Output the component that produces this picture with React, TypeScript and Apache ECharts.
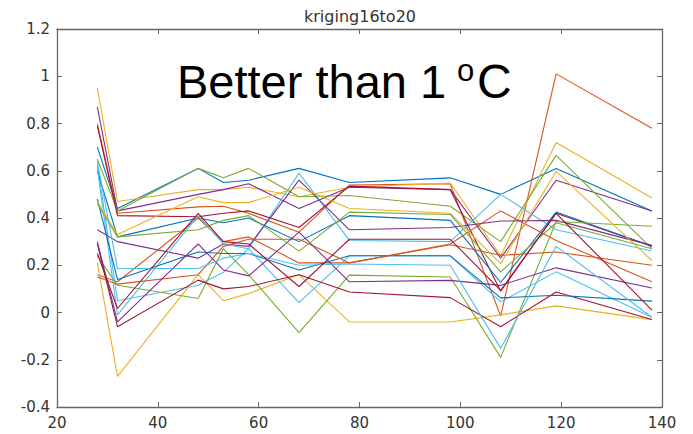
import React, { useEffect, useRef } from "react";
import * as echarts from "echarts";

// Sample positions shared by every curve
const xValues = [28, 32, 48, 53, 58, 68, 78, 98, 108, 119, 138];

// Error curves, one per run (MATLAB default colour order)
const run01 = [0.7, 0.44, 0.61, 0.55, 0.56, 0.61, 0.55, 0.57, 0.5, 0.61, 0.43];
const run02 = [0.8, 0.42, 0.447, 0.45, 0.42, 0.34, 0.54, 0.545, -0.015, 1.01, 0.78];
const run03 = [0.95, 0.47, 0.52, 0.52, 0.53, 0.49, 0.53, 0.548, 0.24, 0.72, 0.485];
const run04 = [0.87, 0.43, 0.5, 0.52, 0.545, 0.44, 0.53, 0.52, 0.23, 0.56, 0.43];
const run05 = [0.65, 0.43, 0.61, 0.57, 0.61, 0.49, 0.495, 0.45, 0.3, 0.665, 0.27];
const run06 = [0.63, 0.05, 0.115, 0.17, 0.27, 0.59, 0.305, 0.3, 0.5, 0.35, 0.26];
const run07 = [0.79, 0.41, 0.405, 0.42, 0.43, 0.36, 0.535, 0.52, 0.09, 0.42, 0.28];
const run08 = [0.6, 0.32, 0.4, 0.38, 0.4, 0.3, 0.41, 0.39, 0.127, 0.425, 0.28];
const run09 = [0.16, 0.13, 0.4, 0.3, 0.32, 0.21, 0.21, 0.29, 0.43, 0.305, 0.13];
const run10 = [0.21, -0.27, 0.16, 0.05, 0.08, 0.16, -0.04, -0.04, -0.01, 0.028, -0.03];
const run11 = [0.35, 0.3, 0.23, 0.29, 0.28, 0.56, 0.35, 0.36, 0.387, 0.39, 0.284];
const run12 = [0.24, 0.115, 0.059, 0.27, 0.16, -0.085, 0.158, 0.15, -0.19, 0.385, 0.365];
const run13 = [0.61, -0.01, 0.41, 0.29, 0.27, 0.042, 0.24, 0.24, 0.045, 0.172, -0.02];
const run14 = [0.29, -0.06, 0.137, 0.1, 0.11, 0.16, 0.087, 0.063, -0.06, 0.087, -0.03];
const run15 = [0.48, 0.14, 0.256, 0.25, 0.25, 0.18, 0.24, 0.24, 0.062, 0.073, 0.048];
const run16 = [0.15, 0.12, 0.16, 0.28, 0.31, 0.31, 0.21, 0.287, 0.242, 0.256, 0.2];
const run17 = [0.47, 0.33, 0.49, 0.465, 0.465, 0.53, 0.44, 0.42, 0.207, 0.597, 0.22];
const run18 = [0.3, -0.04, 0.29, 0.18, 0.155, 0.34, 0.13, 0.136, 0.115, 0.189, 0.104];
const run19 = [0.46, 0.32, 0.35, 0.39, 0.41, 0.26, 0.425, 0.415, 0.172, 0.38, 0.27];
const run20 = [0.64, 0.186, 0.186, 0.23, 0.25, 0.2, 0.205, 0.2, -0.152, 0.28, -0.02];
const run21 = [0.25, 0.017, 0.42, 0.3, 0.29, 0.11, 0.31, 0.31, 0.094, 0.42, 0.01];

const runs = [
  run01, run02, run03, run04, run05, run06, run07,
  run08, run09, run10, run11, run12, run13, run14,
  run15, run16, run17, run18, run19, run20, run21,
];

const lineColors = ["#0072BD", "#D95319", "#EDB120", "#7E2F8E", "#77AC30", "#4DBEEE", "#A2142F"];

const xTicks = { min: 20, max: 140, interval: 20 };
const yTicks = { min: -0.4, max: 1.2, interval: 0.2 };

const titleText = "kriging16to20";

const AXIS_COLOR = "#666666";
const LABEL_COLOR = "#333333";
const TICK_FONT = "DejaVu Sans";

export default function App() {
  const ref = useRef<HTMLDivElement>(null);

  useEffect(() => {
    if (!ref.current) return;
    const chart = echarts.init(ref.current, undefined, { renderer: "svg" });

    const axisLine = { show: true, onZero: false, lineStyle: { color: AXIS_COLOR, width: 1.3 } };
    const axisTick = { show: true, inside: true, length: 5, lineStyle: { color: AXIS_COLOR, width: 1 } };
    const axisLabel = { fontSize: 15, color: LABEL_COLOR, fontFamily: TICK_FONT };

    chart.setOption({
      animation: false,
      backgroundColor: "#ffffff",
      grid: { left: 57, right: 31, top: 29, bottom: 27, containLabel: false },
      xAxis: [
        {
          type: "value",
          position: "bottom",
          ...xTicks,
          axisLine,
          axisTick,
          axisLabel: { ...axisLabel, margin: 8 },
          splitLine: { show: false },
        },
        {
          type: "value",
          position: "top",
          ...xTicks,
          axisLine,
          axisTick,
          axisLabel: { show: false },
          splitLine: { show: false },
        },
      ],
      yAxis: [
        {
          type: "value",
          position: "left",
          ...yTicks,
          axisLine,
          axisTick,
          axisLabel: { ...axisLabel, margin: 7 },
          splitLine: { show: false },
        },
        {
          type: "value",
          position: "right",
          ...yTicks,
          axisLine,
          axisTick,
          axisLabel: { show: false },
          splitLine: { show: false },
        },
      ],
      series: runs.map((vals, i) => ({
        type: "line",
        xAxisIndex: 0,
        yAxisIndex: 0,
        data: xValues.map((x, j) => [x, vals[j]]),
        showSymbol: false,
        symbol: "none",
        silent: true,
        lineStyle: { width: 1.1, color: lineColors[i % lineColors.length] },
        itemStyle: { color: lineColors[i % lineColors.length] },
        z: 2 + i / 100,
      })),
      graphic: [
        {
          type: "text",
          x: 360,
          y: 16,
          style: {
            text: titleText,
            fontSize: 16,
            fontFamily: TICK_FONT,
            fill: LABEL_COLOR,
            align: "center",
            verticalAlign: "middle",
          },
        },
        {
          type: "text",
          x: 177,
          y: 81,
          style: {
            text: "Better than 1",
            fontSize: 47,
            fontFamily: "Liberation Sans",
            fill: "#000000",
            align: "left",
            verticalAlign: "middle",
          },
        },
        {
          type: "text",
          x: 457,
          y: 70,
          style: {
            text: "o",
            fontSize: 31,
            fontFamily: "Liberation Sans",
            fill: "#000000",
            align: "left",
            verticalAlign: "middle",
          },
        },
        {
          type: "text",
          x: 477,
          y: 81,
          style: {
            text: "C",
            fontSize: 48,
            fontFamily: "Liberation Sans",
            fill: "#000000",
            align: "left",
            verticalAlign: "middle",
          },
        },
      ],
    });

    return () => chart.dispose();
  }, []);

  return (
    <div
      ref={ref}
      style={{ position: "fixed", left: 0, top: 0, width: 693, height: 434, background: "#ffffff" }}
    />
  );
}
